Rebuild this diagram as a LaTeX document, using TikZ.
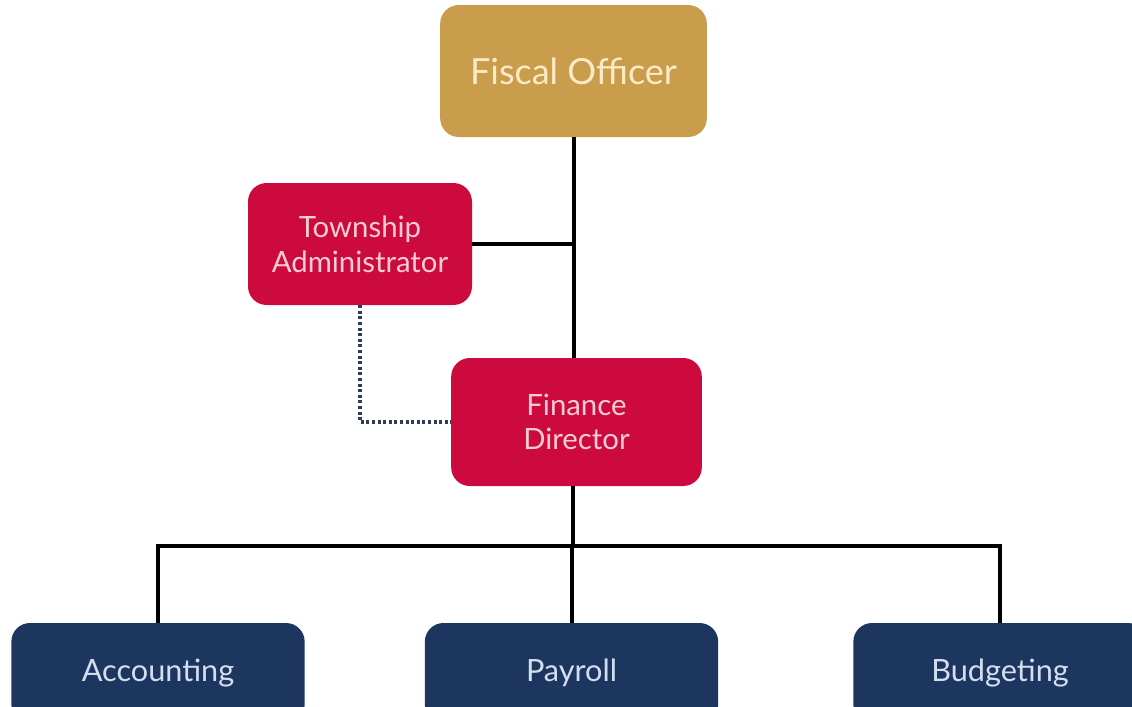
\documentclass[tikz,border=0pt]{standalone}
\usepackage{fontspec}
\setmainfont{Lato}
\usepackage{tikz}
\definecolor{fiscalgold}{HTML}{C99D4C}
\definecolor{finred}{HTML}{CC0A3D}
\definecolor{deptnavy}{HTML}{1D365F}
\definecolor{goldtext}{HTML}{FAEBC6}
\definecolor{redtext}{HTML}{F9CCD6}
\definecolor{navytext}{HTML}{D3DFEE}
\definecolor{dotline}{HTML}{2F3C58}

\begin{document}
\begin{tikzpicture}[x=0.75pt, y=-0.75pt,
  box/.style={rectangle, rounded corners=14pt, align=center, inner sep=0pt},
  topbox/.style={box, fill=fiscalgold, text=goldtext, minimum width=200pt, minimum height=99pt, font=\fontsize{27}{31}\selectfont},
  midbox/.style={box, fill=finred, text=redtext, font=\fontsize{22}{26}\selectfont},
  deptbox/.style={box, fill=deptnavy, text=navytext, minimum width=220pt, minimum height=75pt, font=\fontsize{23}{27}\selectfont},
  link/.style={draw=black, line width=3pt},
  dotlink/.style={draw=dotline, line width=3pt, dash pattern=on 2.2pt off 2pt}]
\useasboundingbox (0,0) rectangle (1132,707);
\fill[white] (0,0) rectangle (1132,707);

% Boxes
\node[topbox] (fiscal) at (573.5,71) {Fiscal Officer};
\node[midbox, minimum width=168pt, minimum height=91.5pt] (township) at (360,244) {Township\\Administrator};
\node[midbox, minimum width=188pt, minimum height=96pt] (finance) at (576.5,422) {Finance\\Director};

\node[deptbox] (accounting) at (158,673) {\raisebox{4pt}{Accounting}};
\node[deptbox] (payroll) at (571.5,673) {\raisebox{4pt}{Payroll}};
\node[deptbox] (budgeting) at (1000,673) {\raisebox{4pt}{Budgeting}};

\coordinate (bus) at (573,546);

% Lines
\draw[link] (fiscal.south) -- (fiscal.south |- finance.north);
\draw[link] (township.east) -- (township.east -| fiscal.south);
\draw[link] (finance.south -| bus) -- (bus);
\draw[link] (accounting.north) -- (accounting.north |- bus) -- (budgeting.north |- bus) -- (budgeting.north);
\draw[link] (payroll.north) -- (payroll.north |- bus);
\draw[dotlink] (township.south) |- (finance.west);

\end{tikzpicture}
\end{document}
